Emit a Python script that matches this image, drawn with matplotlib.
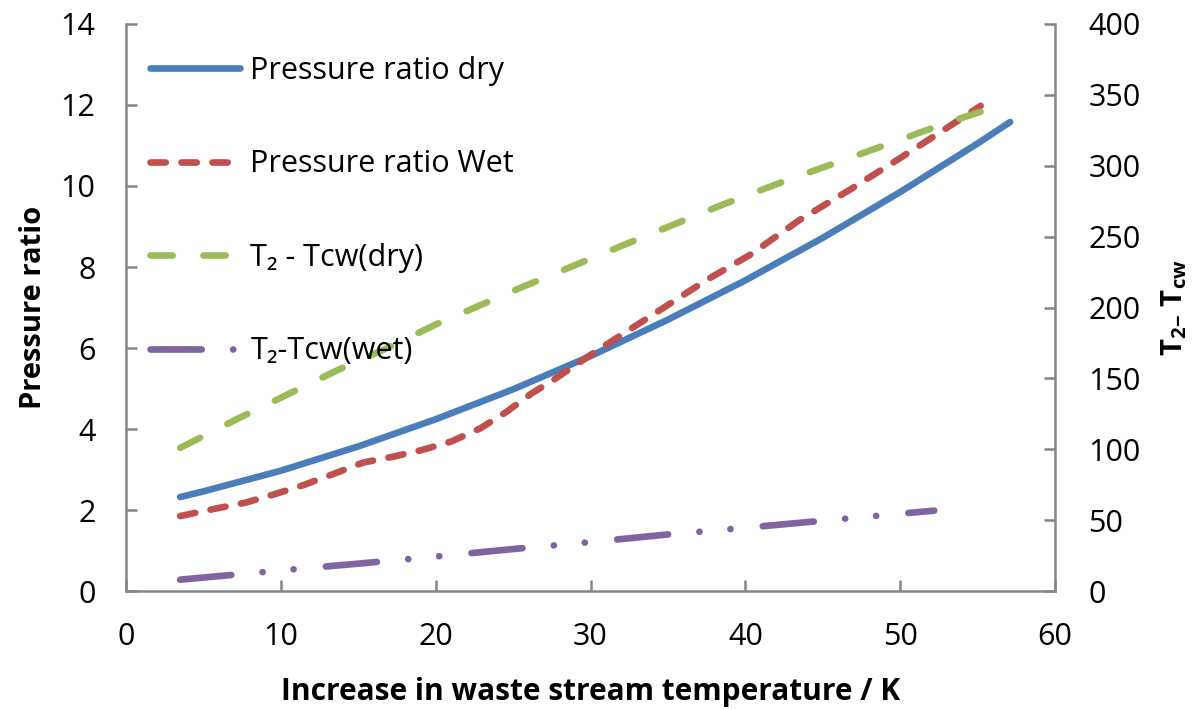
import matplotlib
matplotlib.use("Agg")
import matplotlib.pyplot as plt

plt.rcParams['font.family'] = ['Open Sans', 'DejaVu Sans']
plt.rcParams['lines.scale_dashes'] = False
plt.rcParams['mathtext.fontset'] = 'custom'
plt.rcParams['mathtext.rm'] = 'Open Sans'
plt.rcParams['mathtext.bf'] = 'Open Sans:bold'
plt.rcParams['mathtext.it'] = 'Open Sans:italic'

# Pressure ratio, dry operation
x_dry = [3.5, 5, 10, 15, 20, 25, 30, 35, 40, 45, 50, 55, 57.1]
pr_dry = [2.32, 2.46, 2.97, 3.57, 4.24, 4.98, 5.80, 6.70, 7.67, 8.72, 9.85, 11.05, 11.58]

# Pressure ratio, wet operation
x_wet = [3.5, 5.6, 7.7, 9.6, 11.5, 13.4, 15.3, 17.3, 19.1, 21.0, 22.9, 24.6,
         26.2, 27.6, 30.2, 32.8, 35.8, 37.5, 40.3, 43.5, 46.8, 50.0, 52.6, 55.2]
pr_wet = [1.85, 2.02, 2.18, 2.39, 2.62, 2.89, 3.17, 3.32, 3.48, 3.69, 4.02, 4.43,
          4.88, 5.21, 5.88, 6.52, 7.26, 7.68, 8.30, 9.16, 9.92, 10.69, 11.33, 11.98]

# Temperature difference T2 - Tcw, dry operation
x_dt_dry = [3.5, 7.3, 10.5, 13.7, 17.0, 20.0, 25.5, 31.9, 38.4, 42.5, 46.6, 53.2, 56.6]
dt_dry = [101, 122, 139, 156, 172, 188, 214, 243, 272, 289, 305, 331, 343]

# Temperature difference T2 - Tcw, wet operation
x_dt_wet = [3.5, 10, 15, 20, 25, 30, 35, 40, 45, 50, 52.2]
dt_wet = [8, 14.5, 19.3, 24.3, 29.6, 34.5, 39.9, 44.6, 49.6, 54.5, 56.7]

x_ticks = [0, 10, 20, 30, 40, 50, 60]
left_ticks = [0, 2, 4, 6, 8, 10, 12, 14]
right_ticks = [0, 50, 100, 150, 200, 250, 300, 350, 400]

labels = ["Pressure ratio dry", "Pressure ratio Wet",
          "T\u2082 - Tcw(dry)", "T\u2082-Tcw(wet)"]

BLUE = '#4A7EBB'
RED = '#C0504D'
GREEN = '#9BBB59'
PURPLE = '#8064A2'
AXIS_GREY = '#868686'
LW = 4.8

fig = plt.figure(figsize=(11.99, 7.10), dpi=100)
ax = fig.add_axes([0.1051, 0.1676, 0.7748, 0.7986])
ax2 = ax.twinx()

l1, = ax.plot(x_dry, pr_dry, color=BLUE, lw=LW, solid_capstyle='round',
              solid_joinstyle='round')
l2, = ax.plot(x_wet, pr_wet, color=RED, lw=LW, dashes=(11, 11.3),
              dash_capstyle='round', dash_joinstyle='round')
l3, = ax2.plot(x_dt_dry, dt_dry, color=GREEN, lw=LW, dashes=(16, 22.1),
               dash_capstyle='round', dash_joinstyle='round')
l4, = ax2.plot(x_dt_wet, dt_wet, color=PURPLE, lw=LW,
               dashes=(36.9, 22.6, 0.1, 22.3, 0.1, 23.3),
               dash_capstyle='round', dash_joinstyle='round')

ax.set_xlim(0, 60)
ax.set_ylim(0, 14)
ax2.set_ylim(0, 400)
ax.set_xticks(x_ticks)
ax.set_yticks(left_ticks)
ax2.set_yticks(right_ticks)

for a in (ax, ax2):
    for s in a.spines.values():
        s.set_color(AXIS_GREY)
        s.set_linewidth(1.8)
    a.spines['top'].set_visible(False)
ax.spines['right'].set_visible(False)
ax2.spines['left'].set_visible(False)
ax2.spines['bottom'].set_visible(False)

ax.tick_params(axis='both', direction='in', length=8, width=1.8,
               color=AXIS_GREY, labelcolor='black', labelsize=22)
ax.tick_params(axis='x', pad=22)
ax.tick_params(axis='y', pad=22)
ax2.tick_params(axis='y', direction='in', length=8, width=1.8,
                color=AXIS_GREY, labelcolor='black', labelsize=22, pad=24)

ax.set_xlabel("Increase in waste stream temperature / K", fontsize=21.5,
              fontweight='bold')
ax.set_ylabel("Pressure ratio", fontsize=21, fontweight='bold')
ax2.set_ylabel(r"$\mathbf{T_{2}}$$_{\mathbf{-}}$ $\mathbf{T_{cw}}$", fontsize=21,
               fontweight='bold')
ax.xaxis.set_label_coords(0.5, -0.152)
ax.yaxis.set_label_coords(-0.084, 0.5)
ax2.yaxis.set_label_coords(1.112, 0.5)

ax2.legend([l1, l2, l3, l4], labels, loc='upper left',
           bbox_to_anchor=(0.026, 0.944), frameon=False, fontsize=22,
           handlelength=2.95, handletextpad=0.33, labelspacing=2.08,
           borderpad=0, borderaxespad=0)

fig.savefig("out.png", dpi=100)
